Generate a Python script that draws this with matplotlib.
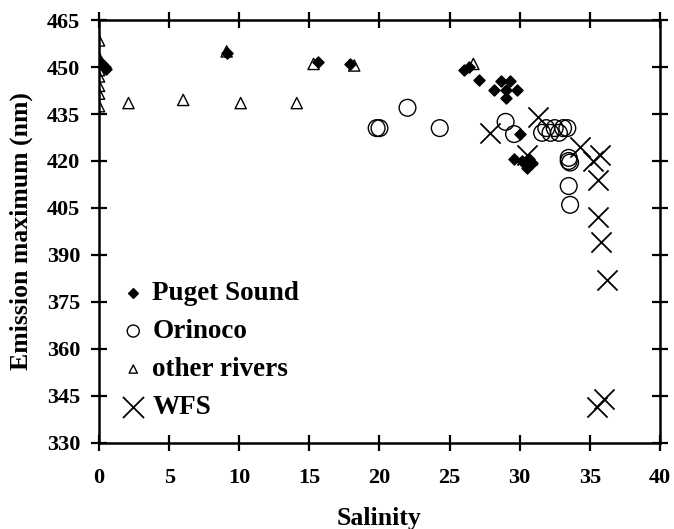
import matplotlib
matplotlib.use("Agg")
import matplotlib.pyplot as plt

plt.rcParams["font.family"] = ["Liberation Serif", "DejaVu Serif"]
plt.rcParams["font.weight"] = "bold"

# Puget Sound (filled diamonds)
puget_x = [0, 0.2, 0.4, 0.5, 9.1, 15.6, 17.9, 26.0, 26.4, 27.1, 28.2, 28.7, 29.0,
           29.3, 29.8, 29.0, 30.0, 29.6, 30.2, 30.7, 30.5, 30.9]
puget_y = [452, 451, 450, 449.5, 454.5, 451.5, 451, 449.2, 450, 446, 442.8, 445.5, 442.8,
           445.5, 442.8, 440.2, 428.6, 420.5, 420, 420.5, 417.9, 419.5]

# Orinoco (open circles)
orinoco_x = [22.0, 19.8, 20.0, 24.3, 29.0, 29.6, 31.6, 31.9, 32.2, 32.5, 32.8, 33.1,
             33.4, 33.5, 33.5, 33.6, 33.5, 33.6]
orinoco_y = [437, 430.5, 430.5, 430.5, 432.5, 428.6, 429, 430.5, 429, 430.5, 429, 430.5,
             430.5, 421, 420, 419.5, 412, 406]

# other rivers (open triangles)
rivers_x = [0, 0, 0, 0, 0, 0, 0, 0, 2.1, 6.0, 10.1, 14.1, 9.1, 15.3, 18.2, 26.7]
rivers_y = [458.5, 453, 451, 449, 447, 444, 441.5, 437.5, 438.5, 439.5, 438.5, 438.5,
            455, 451, 450.5, 451]

# WFS (crosses)
wfs_x = [27.9, 31.3, 30.5, 34.3, 35.7, 35.2, 35.6, 35.6, 35.8, 36.2, 35.5, 36.0]
wfs_y = [429, 434, 422, 424.5, 422, 420, 414, 402, 394, 382, 341.5, 344]

fig = plt.figure(figsize=(6.74, 5.29), dpi=100)
ax = fig.add_axes([0.147, 0.163, 0.832, 0.799])

ax.scatter(puget_x, puget_y, marker="D", s=32, color="black", label="Puget Sound", zorder=3)
ax.scatter(orinoco_x, orinoco_y, marker="o", s=145, facecolors="none", edgecolors="black",
           linewidths=1.0, label="Orinoco", zorder=2)
ax.scatter(rivers_x, rivers_y, marker="^", s=65, facecolors="none", edgecolors="black",
           linewidths=1.0, label="other rivers", zorder=2)
ax.scatter(wfs_x, wfs_y, marker="x", s=210, color="black", linewidths=1.3, label="WFS", zorder=2)

ax.set_xlim(0, 40)
ax.set_ylim(330, 465)
ax.set_xticks(range(0, 41, 5))
ax.set_yticks(range(330, 466, 15))
ax.tick_params(direction="inout", length=11, width=1.6, labelsize=16,
               top=True, right=True, labeltop=False, labelright=False)
ax.tick_params(axis="x", pad=13)
ax.tick_params(axis="y", pad=8)
for lab in ax.get_xticklabels() + ax.get_yticklabels():
    lab.set_fontweight("bold")
for sp in ax.spines.values():
    sp.set_linewidth(1.8)

ax.set_xlabel("Salinity", fontsize=18.5, fontweight="bold", labelpad=13)
ax.set_ylabel("Emission maximum (nm)", fontsize=18.5, fontweight="bold", labelpad=10)

leg = ax.legend(loc="upper left", bbox_to_anchor=(0.0175, 0.408), frameon=False,
                prop={"size": 19.5, "weight": "bold"}, handlelength=1.0,
                handletextpad=0.2, labelspacing=0.48, borderaxespad=0)
for h, sz in zip(leg.legend_handles, [25, 75, 35, 230]):
    h.set_sizes([sz])

fig.savefig("out.png", dpi=100)
